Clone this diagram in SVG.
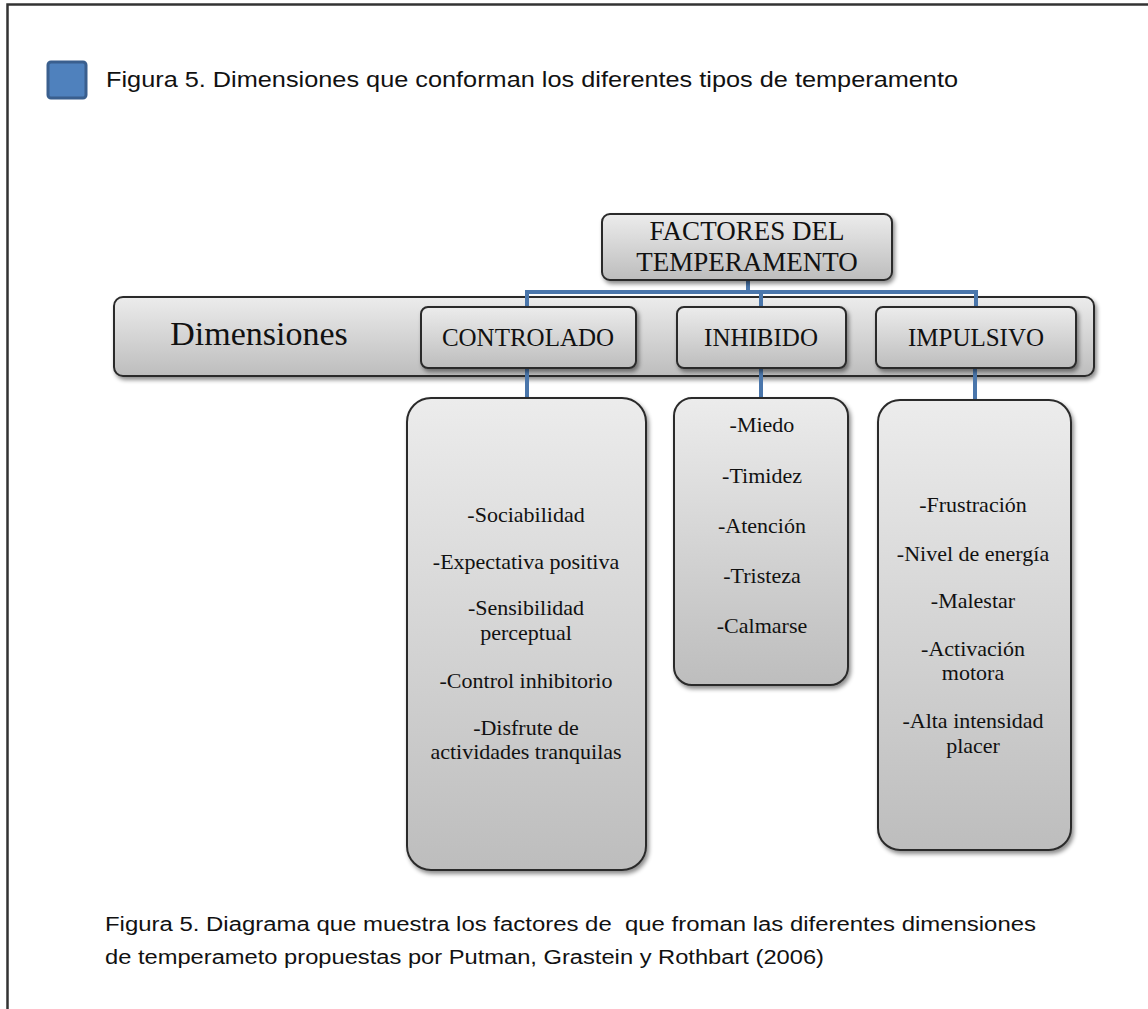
<svg xmlns="http://www.w3.org/2000/svg" width="1148" height="1009" viewBox="0 0 1148 1009">
<defs>
<linearGradient id="g" x1="0" y1="0" x2="0" y2="1">
<stop offset="0" stop-color="#ececec"/>
<stop offset="1" stop-color="#bdbdbd"/>
</linearGradient>
<filter id="sh" x="-10%" y="-10%" width="130%" height="130%">
<feDropShadow dx="2" dy="3" stdDeviation="2" flood-color="#000" flood-opacity="0.45"/>
</filter>
</defs>
<style>
.box{fill:url(#g);stroke:#2b2b2b;stroke-width:2;filter:url(#sh)}
.t{font-family:"Liberation Serif","Times New Roman",serif;fill:#111;text-anchor:middle}
.lbl{font-size:25px}
.li{font-size:22px}
.cap{font-family:"Liberation Sans",Arial,sans-serif;fill:#111;white-space:pre}
.con{fill:none;stroke:#4a76ab;stroke-width:4}
</style>
<rect width="1148" height="1009" fill="#fff"/>
<path d="M7.5,1009 V4.5 H1148" fill="none" stroke="#333" stroke-width="2.5"/>
<g id="icon">
<rect x="48" y="62" width="38" height="36" rx="3" fill="#4f81bd" stroke="#3a5f8e" stroke-width="3"/>
</g>
<text class="cap" x="106" y="87" font-size="22" textLength="852" lengthAdjust="spacingAndGlyphs">Figura 5. Dimensiones que conforman los diferentes tipos de temperamento</text>

<g id="dimensiones">
<rect class="box" x="114" y="297" width="980" height="79" rx="9"/>
<text class="t" x="259" y="345" font-size="34">Dimensiones</text>
</g>

<g id="connectors">
<path class="con" d="M748,280 V292 M527,307 V292 H976 V307 M761,292 V307"/>
<path class="con" d="M527,368 V398"/>
<path class="con" d="M761,368 V398"/>
<path class="con" d="M975,368 V400"/>
</g>

<g id="factores">
<rect class="box" x="602" y="214" width="290" height="66" rx="8"/>
<text class="t" x="747" y="240" font-size="27">FACTORES DEL</text>
<text class="t" x="747" y="271" font-size="27">TEMPERAMENTO</text>
</g>

<g id="controlado">
<rect class="box" x="421" y="307" width="215" height="61" rx="7"/>
<text class="t lbl" x="528" y="346">CONTROLADO</text>
</g>
<g id="inhibido">
<rect class="box" x="677" y="307" width="169" height="61" rx="7"/>
<text class="t lbl" x="761" y="346">INHIBIDO</text>
</g>
<g id="impulsivo">
<rect class="box" x="876" y="307" width="200" height="61" rx="7"/>
<text class="t lbl" x="976" y="346">IMPULSIVO</text>
</g>

<g id="controlado-list">
<rect class="box" x="407" y="398" width="239" height="472" rx="24"/>
<text class="t li" x="526" y="522">-Sociabilidad</text>
<text class="t li" x="526" y="569">-Expectativa positiva</text>
<text class="t li" x="526" y="615">-Sensibilidad</text>
<text class="t li" x="526" y="640">perceptual</text>
<text class="t li" x="526" y="688">-Control inhibitorio</text>
<text class="t li" x="526" y="735">-Disfrute de</text>
<text class="t li" x="526" y="759">actividades tranquilas</text>
</g>

<g id="inhibido-list">
<rect class="box" x="674" y="398" width="174" height="287" rx="18"/>
<text class="t li" x="762" y="432">-Miedo</text>
<text class="t li" x="762" y="483">-Timidez</text>
<text class="t li" x="762" y="533">-Atención</text>
<text class="t li" x="762" y="583">-Tristeza</text>
<text class="t li" x="762" y="633">-Calmarse</text>
</g>

<g id="impulsivo-list">
<rect class="box" x="878" y="400" width="193" height="450" rx="22"/>
<text class="t li" x="973" y="512">-Frustración</text>
<text class="t li" x="973" y="561">-Nivel de energía</text>
<text class="t li" x="973" y="608">-Malestar</text>
<text class="t li" x="973" y="656">-Activación</text>
<text class="t li" x="973" y="680">motora</text>
<text class="t li" x="973" y="728">-Alta intensidad</text>
<text class="t li" x="973" y="753">placer</text>
</g>

<text class="cap" x="105" y="931" font-size="20" textLength="931" lengthAdjust="spacingAndGlyphs">Figura 5. Diagrama que muestra los factores de  que froman las diferentes dimensiones</text>
<text class="cap" x="105" y="964" font-size="20" textLength="719" lengthAdjust="spacingAndGlyphs">de temperameto propuestas por Putman, Grastein y Rothbart (2006)</text>
</svg>
